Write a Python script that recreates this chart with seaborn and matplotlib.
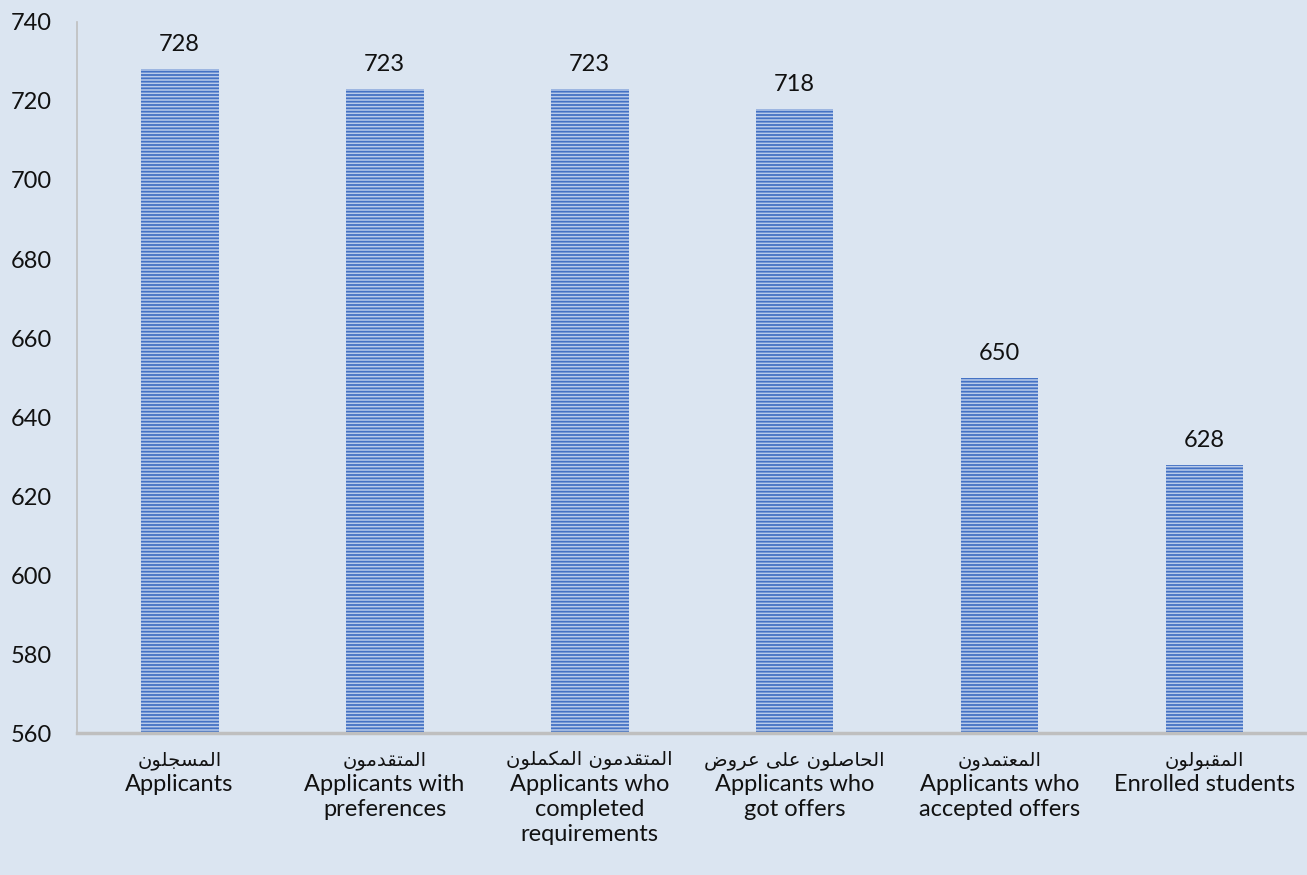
import matplotlib
matplotlib.use("Agg")
import matplotlib.pyplot as plt
import matplotlib.transforms as mtransforms
import seaborn as sns
import pandas as pd

labels_ar = [
    "المسجلون",
    "المتقدمون",
    "المتقدمون المكملون",
    "الحاصلون على عروض",
    "المعتمدون",
    "المقبولون",
]
labels_en = [
    "Applicants",
    "Applicants with\npreferences",
    "Applicants who\ncompleted\nrequirements",
    "Applicants who\ngot offers",
    "Applicants who\naccepted offers",
    "Enrolled students",
]
values = [728, 723, 723, 718, 650, 628]
yticks = [560, 580, 600, 620, 640, 660, 680, 700, 720, 740]

BG = "#dbe5f1"

# contextual forms (isolated, final, initial, medial); None -> letter does not join forward
FORMS = {
    "ا": ("\ufe8d", "\ufe8e", None, None),
    "ب": ("\ufe8f", "\ufe90", "\ufe91", "\ufe92"),
    "ت": ("\ufe95", "\ufe96", "\ufe97", "\ufe98"),
    "ج": ("\ufe9d", "\ufe9e", "\ufe9f", "\ufea0"),
    "ح": ("\ufea1", "\ufea2", "\ufea3", "\ufea4"),
    "د": ("\ufea9", "\ufeaa", None, None),
    "ر": ("\ufead", "\ufeae", None, None),
    "س": ("\ufeb1", "\ufeb2", "\ufeb3", "\ufeb4"),
    "ص": ("\ufeb9", "\ufeba", "\ufebb", "\ufebc"),
    "ض": ("\ufebd", "\ufebe", "\ufebf", "\ufec0"),
    "ع": ("\ufec9", "\ufeca", "\ufecb", "\ufecc"),
    "ق": ("\ufed5", "\ufed6", "\ufed7", "\ufed8"),
    "ك": ("\ufed9", "\ufeda", "\ufedb", "\ufedc"),
    "ل": ("\ufedd", "\ufede", "\ufedf", "\ufee0"),
    "م": ("\ufee1", "\ufee2", "\ufee3", "\ufee4"),
    "ن": ("\ufee5", "\ufee6", "\ufee7", "\ufee8"),
    "و": ("\ufeed", "\ufeee", None, None),
    "ى": ("\ufeef", "\ufef0", None, None),
}


def shape_arabic(text):
    # minimal shaping + reversal so matplotlib draws it right-to-left
    out = []
    n = len(text)
    for i, ch in enumerate(text):
        if ch not in FORMS:
            out.append(ch)
            continue
        prev = text[i - 1] if i > 0 else None
        nxt = text[i + 1] if i + 1 < n else None
        joins_prev = prev in FORMS and FORMS[prev][2] is not None
        joins_next = nxt in FORMS and FORMS[ch][2] is not None
        iso, fin, ini, med = FORMS[ch]
        if joins_prev and joins_next:
            out.append(med)
        elif joins_prev:
            out.append(fin)
        elif joins_next:
            out.append(ini)
        else:
            out.append(iso)
    return "".join(out)[::-1]


df = pd.DataFrame({"stage": labels_en, "count": values})

sns.set_style("white")
plt.rcParams["font.family"] = ["Lato", "DejaVu Sans"]
plt.rcParams["hatch.linewidth"] = 1.3

fig = plt.figure(figsize=(13.07, 8.75), dpi=100, facecolor=BG)
ax = fig.add_axes([0.059, 0.162, 0.941, 0.813])
ax.set_facecolor(BG)

sns.barplot(
    data=df, x="stage", y="count", ax=ax, width=0.38,
    color="#b9cbea", edgecolor="#4472c4", linewidth=0, hatch="-----",
    saturation=1,
)

for p, v in zip(ax.patches, values):
    ax.text(p.get_x() + p.get_width() / 2, v + 3.5, str(v),
            ha="center", va="bottom", fontsize=17, color="#111111")

# arabic line sits above the english tick label
trans = mtransforms.blended_transform_factory(ax.transData, ax.transAxes)
for i, a in enumerate(labels_ar):
    ax.annotate(shape_arabic(a), xy=(i, 0), xycoords=trans,
                xytext=(0, -19.5), textcoords="offset points",
                ha="center", va="center", fontsize=14,
                family="DejaVu Sans", color="#111111")

ax.set_ylim(560, 740)
ax.set_yticks(yticks)
ax.set_xlim(-0.5, len(values) - 0.5)
ax.set_xlabel("")
ax.set_ylabel("")
ax.tick_params(axis="y", labelsize=17, length=0, pad=18, labelcolor="#111111")
ax.tick_params(axis="x", labelsize=17, length=0, pad=29.5, labelcolor="#111111")
for lbl in ax.get_xticklabels():
    lbl.set_linespacing(1.22)

for side in ["top", "right"]:
    ax.spines[side].set_visible(False)
ax.spines["left"].set_color("#bfbfbf")
ax.spines["left"].set_linewidth(1.2)
ax.spines["bottom"].set_color("#bfbfbf")
ax.spines["bottom"].set_linewidth(2.5)

fig.savefig("out.png", dpi=100, facecolor=BG)
